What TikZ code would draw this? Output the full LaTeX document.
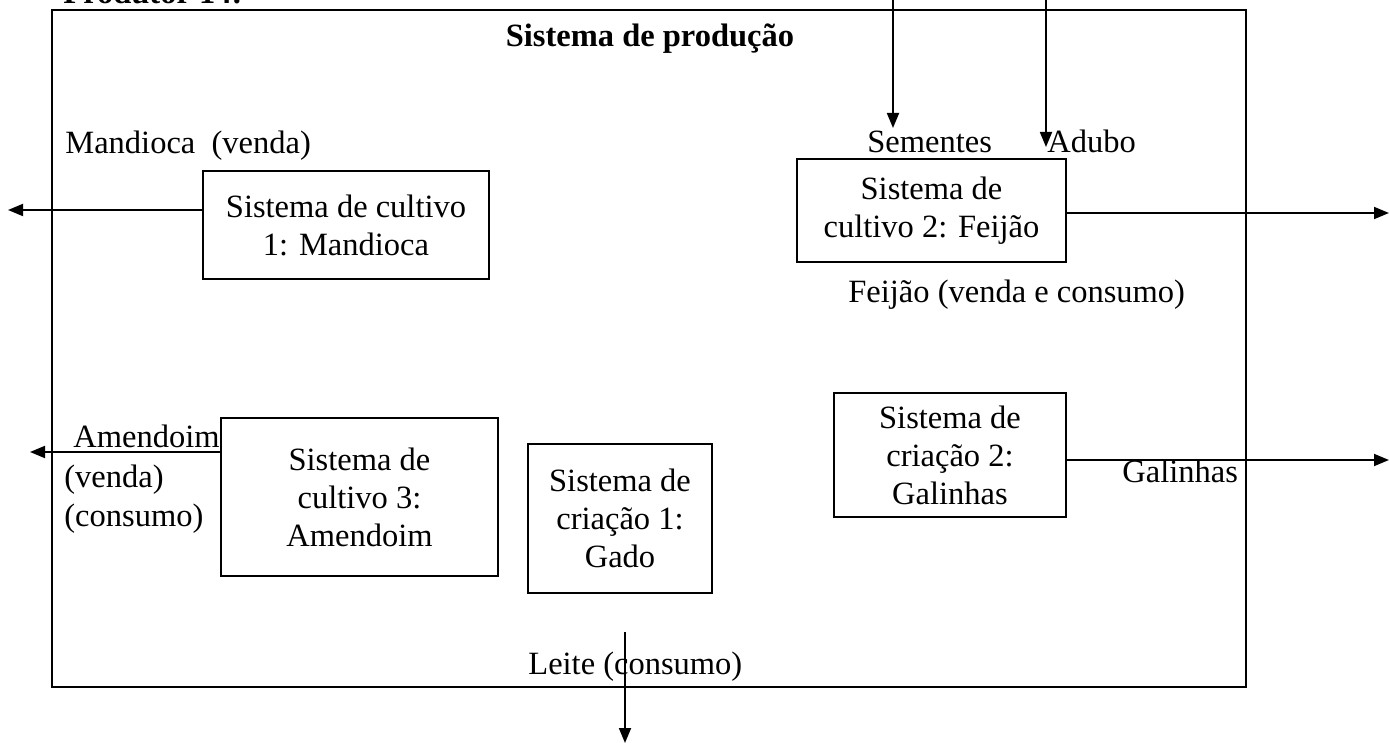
\documentclass[tikz,border=0pt]{standalone}
\usepackage{fontspec}
\setmainfont{Liberation Serif}
\usetikzlibrary{arrows.meta,positioning}
\begin{document}
\begin{tikzpicture}[x=0.5pt,y=-0.5pt,
    caixa/.style={draw,line width=1pt,align=center,inner sep=0pt,
      font=\fontsize{16.25pt}{19pt}\selectfont},
    seta/.style={line width=0.9pt,-{Triangle[length=7.5pt,width=6pt]}},
    rotulo/.style={anchor=base west,inner sep=0pt,font=\fontsize{16.25pt}{19pt}\selectfont}]
    \useasboundingbox (0,0) rectangle (1389,743);
    \draw[line width=1.2pt] (52,10) rectangle (1246,687);
    \node[rotulo,font=\fontsize{16.25pt}{19pt}\selectfont\bfseries] (produtor) at (63,4) {Produtor 14:};
    \node[rotulo,anchor=base,font=\fontsize{16.25pt}{19pt}\selectfont\bfseries] (titulo) at (650,47) {Sistema de produção};
    \node[caixa,minimum width=143pt,minimum height=54pt] (mandioca) at (346,225) {Sistema de cultivo\\1: Mandioca};
    \node[caixa,minimum width=134.5pt,minimum height=51.5pt] (feijao) at (931.5,210.5) {Sistema de\\cultivo 2: Feijão};
    \node[caixa,minimum width=138.5pt,minimum height=79pt] (amendoim) at (359.5,497) {Sistema de\\cultivo 3:\\Amendoim};
    \node[caixa,minimum width=92pt,minimum height=74.5pt] (gado) at (620,518.5) {Sistema de\\criação 1:\\Gado};
    \node[caixa,minimum width=116pt,minimum height=62pt] (galinhas) at (950,455) {Sistema de\\criação 2:\\Galinhas};
    \coordinate (saidaM) at (8,210);
    \coordinate (saidaF) at (1389,213);
    \coordinate (saidaA) at (30,452);
    \coordinate (saidaG) at (1389,460);
    \coordinate (inicioL) at (625,632);
    \coordinate (saidaL) at (625,743);
    \coordinate (inicioS) at (893,0);
    \coordinate (fimS) at (893,128);
    \coordinate (inicioAd) at (1046,0);
    \coordinate (fimAd) at (1046,147);
    \draw[seta] ([yshift=7.5pt]mandioca.west) -- (saidaM);
    \draw[seta] (feijao.east |- saidaF) -- (saidaF);
    \draw[seta] (amendoim.west |- saidaA) -- (saidaA);
    \draw[seta] (galinhas.east |- saidaG) -- (saidaG);
    \draw[seta] (inicioL) -- (saidaL);
    \draw[seta] (inicioS) -- (fimS);
    \draw[seta] (inicioAd) -- (fimAd);
    \node[rotulo] (lmandioca) at (65,154) {Mandioca\ \ (venda)};
    \node[rotulo] (lsementes) at (867,153) {Sementes};
    \node[rotulo] (ladubo) at (1047,153) {Adubo};
    \node[rotulo] (lfeijao) at (848,303) {Feijão (venda e consumo)};
    \node[rotulo] (lamendoim) at (73,448) {Amendoim};
    \node[rotulo] (lvenda) at (64,488) {(venda)};
    \node[rotulo] (lconsumo) at (64,527) {(consumo)};
    \node[rotulo] (lgalinhas) at (1122,483) {Galinhas};
    \node[rotulo] (lleite) at (528,675) {Leite (consumo)};
\end{tikzpicture}
\end{document}
